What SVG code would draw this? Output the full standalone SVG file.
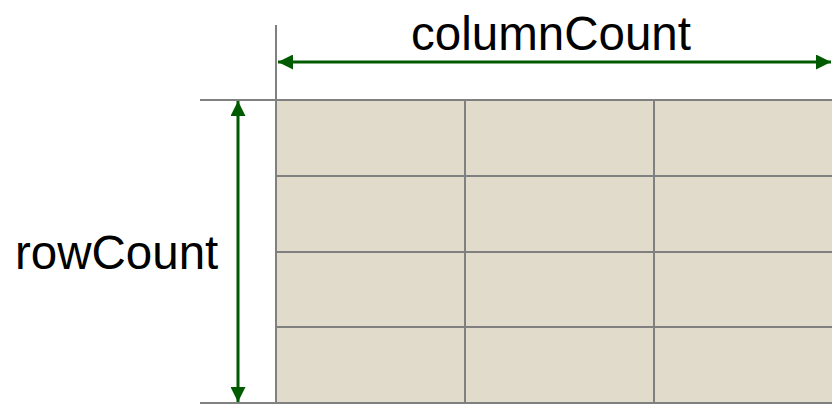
<svg xmlns="http://www.w3.org/2000/svg" width="832" height="406" viewBox="0 0 832 406">
  <style>
    .cell { fill: #E0DBCB; }
    .grid { stroke: #808080; stroke-width: 2; fill: none; }
    .dim { stroke: #005A00; stroke-width: 3; fill: none; }
    .label { font-family: "Liberation Sans", Arial, sans-serif; font-size: 47.5px; fill: #000; }
  </style>
  <defs>
    <marker id="arrow" viewBox="0 0 10 10" refX="10" refY="5" markerWidth="5" markerHeight="5" orient="auto-start-reverse" markerUnits="strokeWidth">
      <path d="M0,0 L10,5 L0,10 z" fill="#005A00"/>
    </marker>
  </defs>

  <!-- table body -->
  <g id="table">
    <rect class="cell" x="276" y="100" width="556" height="303"/>
    <path class="grid" d="M465,100 V403 M654,100 V403 M276,176 H832 M276,252 H832 M276,327 H832"/>
  </g>

  <!-- extension lines -->
  <g id="guides">
    <path class="grid" d="M276,25 V404 M200,100 H832 M200,403 H832"/>
  </g>

  <!-- dimension arrows -->
  <g id="connectors">
    <line class="dim" x1="278" y1="62" x2="831" y2="62" marker-start="url(#arrow)" marker-end="url(#arrow)"/>
    <line class="dim" x1="238" y1="101" x2="238" y2="402" marker-start="url(#arrow)" marker-end="url(#arrow)"/>
  </g>

  <g id="columnCount">
    <text class="label" x="551" y="50" text-anchor="middle">columnCount</text>
  </g>
  <g id="rowCount">
    <text class="label" x="15" y="269">rowCount</text>
  </g>
</svg>
